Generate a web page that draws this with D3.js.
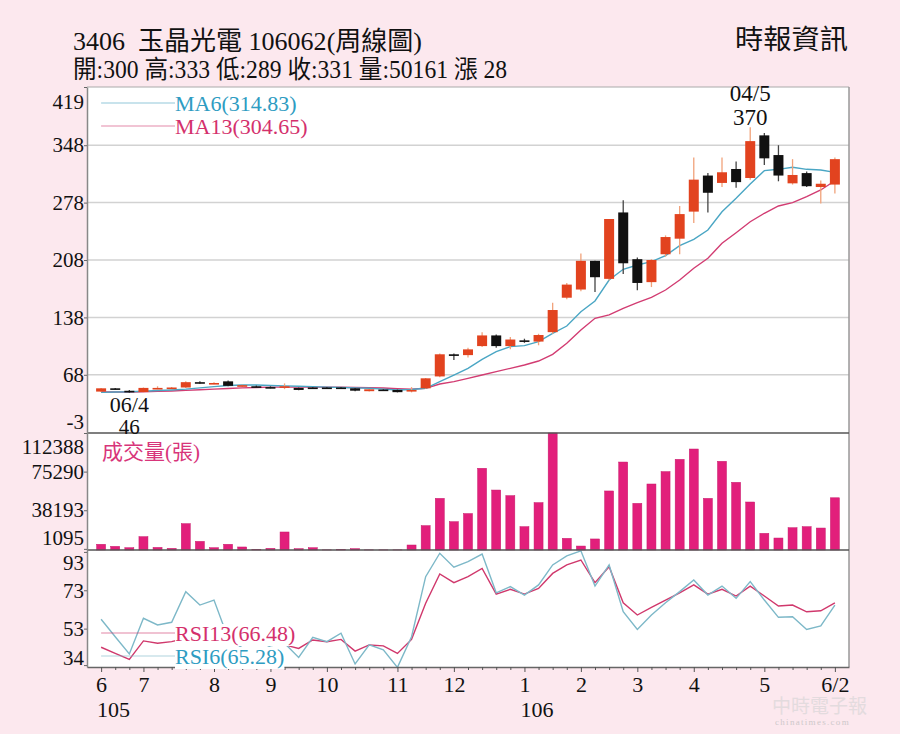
<!DOCTYPE html>
<html>
<head>
<meta charset="utf-8">
<script src="https://cdn.jsdelivr.net/npm/d3@7"></script>
<style>
body { margin: 0; background: #fce8ee; }
svg { display: block; }
text { font-family: "Liberation Serif", "Noto Sans CJK TC", serif; }
</style>
</head>
<body>
<svg width="900" height="734"></svg>
<script>
// weekly bars, 105/6 .. 106/6/2
var weekIdx = d3.range(53);
var monthTickIdx = [0, 3, 8, 12, 16, 21, 25, 30, 34, 38, 42, 47, 52];
var monthLabels = ["6", "7", "8", "9", "10", "11", "12", "1", "2", "3", "4", "5", "6/2"];
var yearTickIdx = [0, 30];
var yearLabels = ["105", "106"];

var open = [47.5, 51.5, 48.5, 47, 51.5, 52, 52.5, 59, 57.5, 60, 55, 54, 53, 53.5, 52, 52.5, 52.5, 52.5, 51.5, 48, 50, 49.5, 47.5,
    51.5, 66, 93, 92, 103, 116, 103, 110, 108.5, 120, 162, 172, 207, 185, 266, 209, 181, 215, 234, 267, 311, 302, 319, 308,
    360, 336, 301.5, 314, 297, 300];
var high = [52, 52, 49.5, 52.5, 54, 53, 60, 60, 59, 61, 56, 55, 54, 57.5, 52.5, 53, 53, 53, 52, 50.5, 50.5, 50, 53,
    64, 94, 94, 101, 120, 117, 114, 112, 118, 156, 180, 216, 207, 258, 281, 211, 209, 238, 274, 333, 314, 333, 328, 370,
    363, 348, 331, 316, 305, 333];
var low = [47, 50, 46, 46.5, 50.5, 51.5, 52, 57, 56.5, 54, 53.5, 53, 51.5, 50.5, 49, 51, 51, 51.5, 48, 47.5, 49, 46.5, 46.5,
    51, 65, 86, 89, 102, 101, 99, 107, 104, 118, 160, 170, 169, 183, 191, 171, 175, 212, 215, 253, 266, 297, 296, 306,
    324, 304, 300, 297, 277, 289];
var close = [51.5, 50.5, 48, 52, 52, 52.5, 59, 58, 58, 54.5, 55.3, 53.5, 52, 54, 49.5, 52, 51.5, 52, 48.6, 50.3, 49.5, 46.8, 49.5,
    63.7, 93, 91, 99, 116, 103, 111, 108.5, 116.5, 147, 178, 207, 187, 258, 204, 180, 208, 236, 264, 306, 290, 315, 303, 353,
    332, 311, 311.7, 298, 301, 331];
var volume = [5500, 3500, 2200, 12800, 2500, 1600, 25300, 8300, 2200, 5500, 2900, 600, 1600, 17300, 1300, 2200, 150, 600,
    1300, 150, 150, 150, 4800, 23400, 49600, 27200, 35000, 78500, 57600, 52200, 22400, 45500, 112388, 11200, 3800, 10600,
    56700, 84500, 44800, 63400, 75300, 87100, 97000, 49600, 85200, 65000, 46100, 16000, 11500, 21400, 22400, 21100, 50161];
var ma6 = [46.5, 47, 47.3, 48, 48.8, 49.5, 50.5, 52, 53.5, 55, 55.5, 55.5, 55, 54.5, 54, 53.5, 53, 52.5, 52, 51.5, 50.5, 49.5, 50,
    51.5, 59.6, 67.7, 75.9, 86.9, 96.2, 102.3, 103.5, 108.4, 118.6, 127.5, 145, 158, 183.6, 196.7, 201.9, 206, 213.3, 225.5,
    233.2, 244.6, 266.9, 283.3, 300.7, 317, 318.6, 321.1, 318.6, 317.8, 314.83];
var ma13 = [47, 47, 47, 47.3, 47.8, 48.3, 49, 49.8, 50.5, 51.3, 52, 52.5, 53, 53, 53, 53, 53, 52.8, 52.5, 52.2, 51.8, 51, 50.5,
    51.5, 56.8, 59.6, 63.7, 67.7, 71.8, 75.9, 79.9, 84.8, 93, 106.4, 122.6, 136.9, 141, 149.1, 156, 162.5, 171.4, 183.6,
    197.9, 210.1, 228.4, 241.3, 254.7, 265, 273.9, 278, 285.2, 293.4, 304.65];
var rsi6 = [57.9, 48.8, 39.8, 58.4, 54.9, 56.3, 72.3, 65.3, 67.9, 48, 43, 40, 44, 45.4, 38, 48.5, 46.2, 50.6, 34.6, 44.5,
    41.9, 32.8, 48.8, 80.1, 92.3, 85, 87.9, 91.9, 71.7, 74.9, 70.5, 75.8, 86.2, 90.9, 93.6, 75.2, 86.2, 61.8, 52.6, 60.1,
    66.5, 72.3, 78.4, 70.5, 75.2, 68.8, 77.5, 67.9, 58.9, 59.2, 52.6, 54.4, 65.28];
var rsi13 = [43.3, 40.1, 37, 46.6, 45.4, 46.2, 48, 49, 50, 48, 46, 45, 45.5, 44.5, 42.7, 47.1, 46.2, 47.4, 41.3, 44.5,
    44, 40.1, 47.4, 66.2, 81.5, 77, 80.1, 84.4, 71, 73.5, 71, 74, 81.8, 86.2, 88.8, 77, 85.3, 66.5, 60.1, 64.1,
    67.9, 71.7, 75.8, 71, 73.5, 70, 75.2, 70, 64.8, 65.3, 61.8, 62.3, 66.48];

var priceTicks = [-3, 68, 138, 208, 278, 348, 419];
var volTicks = [1095, 38193, 75290, 112388];
var rsiTicks = [34, 53, 73, 93];

var title1 = "3406  玉晶光電 106062(周線圖)";
var title2 = "開:300 高:333 低:289 收:331 量:50161 漲 28";
var source = "時報資訊";
var hiNote = ["04/5", "370"], loNote = ["06/4", "46"];

var C = { up: "#e2431f", upWick: "#f1a27a", down: "#111", downWick: "#444",
    ma6: "#4aa6c4", ma13: "#d23c72", vol: "#e21f7b", rsi6: "#7db8c8", rsi13: "#d0386c" };

var svg = d3.select("svg");
var L = 87, R = 849, pTop = 87, pBot = 433, vBot = 550, rBot = 667;

var x = d3.scalePoint().domain(weekIdx).range([L, R]).padding(1);
var yP = d3.scaleLinear().domain([-3, 419]).range([pBot, pTop]);
var yV = d3.scaleLinear().domain([0, 112388]).range([vBot, pBot]);
var yR = d3.scaleLinear().domain([33, 94]).range([rBot, vBot]);

svg.append("rect").attr("width", 900).attr("height", 734).attr("fill", "#fce8ee");
svg.append("rect").attr("x", L).attr("y", pTop).attr("width", R - L).attr("height", rBot - pTop).attr("fill", "#fff");

// grid in price panel
svg.append("g").selectAll("line").data(priceTicks.slice(1, -1)).join("line")
    .attr("x1", L).attr("x2", R).attr("y1", d => yP(d)).attr("y2", d => yP(d))
    .attr("stroke", "#d2d2d2").attr("stroke-width", 1.5);

// moving averages
var line = d3.line().x((d, i) => x(i)).y(d => yP(d));
svg.append("path").datum(ma13).attr("d", line).attr("fill", "none").attr("stroke", C.ma13).attr("stroke-width", 1.4);
svg.append("path").datum(ma6).attr("d", line).attr("fill", "none").attr("stroke", C.ma6).attr("stroke-width", 1.4);

// candles
var candles = svg.append("g").selectAll("g").data(weekIdx).join("g");
candles.append("line")
    .attr("x1", i => x(i)).attr("x2", i => x(i))
    .attr("y1", i => yP(high[i])).attr("y2", i => yP(low[i]))
    .attr("stroke", i => close[i] >= open[i] ? C.upWick : C.downWick).attr("stroke-width", 1.3);
candles.append("rect")
    .attr("x", i => x(i) - 5).attr("width", 10)
    .attr("y", i => yP(Math.max(open[i], close[i])))
    .attr("height", i => Math.max(1.6, Math.abs(yP(open[i]) - yP(close[i]))))
    .attr("fill", i => close[i] >= open[i] ? C.up : C.down);

// volume
svg.append("g").selectAll("rect").data(weekIdx).join("rect")
    .attr("x", i => x(i) - 4.5).attr("width", 9)
    .attr("y", i => yV(volume[i])).attr("height", i => vBot - yV(volume[i]))
    .attr("fill", C.vol).attr("stroke", "#c8186a").attr("stroke-width", 0.5);

// rsi
var rline = d3.line().x((d, i) => x(i)).y(d => yR(d));
svg.append("path").datum(rsi13).attr("d", rline).attr("fill", "none").attr("stroke", C.rsi13).attr("stroke-width", 1.4);
svg.append("path").datum(rsi6).attr("d", rline).attr("fill", "none").attr("stroke", C.rsi6).attr("stroke-width", 1.4);

// frame lines
svg.append("line").attr("x1", L).attr("x2", R).attr("y1", pTop).attr("y2", pTop).attr("stroke", "#aaa");
svg.append("line").attr("x1", R).attr("x2", R).attr("y1", pTop).attr("y2", rBot).attr("stroke", "#999").attr("stroke-width", 1.5);
[pBot, vBot].forEach(function (y) {
    svg.append("line").attr("x1", L).attr("x2", R).attr("y1", y).attr("y2", y).attr("stroke", "#555").attr("stroke-width", 1.5);
});

// axes
function leftAxis(scale, ticks, nudge) {
    var g = svg.append("g").attr("transform", "translate(" + L + ",0)")
        .call(d3.axisLeft(scale).tickValues(ticks).tickSize(3).tickSizeOuter(0).tickPadding(0).tickFormat(d => String(d)));
    g.select(".domain").attr("stroke", "#888").attr("stroke-width", 1.5);
    g.selectAll(".tick line").attr("stroke", "#666");
    g.selectAll(".tick text").attr("font-size", 21).attr("fill", "#111")
        .attr("font-family", "Liberation Serif").attr("y", d => nudge[d] || 0);
}
leftAxis(yP, priceTicks, { 419: 15, "-3": -11 });
leftAxis(yV, volTicks, { 112388: 14, 1095: -11 });
leftAxis(yR, rsiTicks, { 93: 11, 34: -7 });

var xa = svg.append("g").attr("transform", "translate(0," + rBot + ")")
    .call(d3.axisBottom(x).tickValues(weekIdx).tickSize(3).tickSizeOuter(0).tickPadding(6)
        .tickFormat(i => { var k = monthTickIdx.indexOf(i); return k < 0 ? "" : monthLabels[k]; }));
xa.select(".domain").attr("stroke", "#666").attr("stroke-width", 1.5);
xa.selectAll(".tick line").attr("stroke", "#555").attr("y2", i => monthTickIdx.indexOf(i) < 0 ? 3 : 5);
xa.selectAll(".tick text").attr("font-size", 22).attr("fill", "#111").attr("font-family", "Liberation Serif");
svg.append("g").selectAll("text").data(yearTickIdx).join("text")
    .attr("x", (d, k) => x(d) - 4).attr("y", 717).attr("font-size", 22).attr("fill", "#111")
    .text((d, k) => yearLabels[k]);

// legends
function legend(y, label, col, lineCol, panelBg) {
    svg.append("line").attr("x1", x(0)).attr("x2", 175).attr("y1", y).attr("y2", y)
        .attr("stroke", lineCol).attr("stroke-width", 1.2).attr("opacity", 0.6);
    var t = svg.append("text").attr("x", 175).attr("y", y + 8).attr("font-size", 22).attr("fill", col).text(label);
    if (panelBg) {
        var b = t.node().getBBox();
        svg.insert("rect", () => t.node()).attr("x", b.x).attr("y", b.y + 3).attr("width", b.width).attr("height", b.height - 3)
            .attr("fill", "#fff");
    }
}
legend(103, "MA6(" + ma6[52].toFixed(2) + ")", "#2e9cc2", C.ma6, false);
legend(126, "MA13(" + ma13[52].toFixed(2) + ")", "#d4306c", C.ma13, false);
legend(633, "RSI13(" + rsi13[52].toFixed(2) + ")", "#d4306c", C.rsi13, true);
legend(656, "RSI6(" + rsi6[52].toFixed(2) + ")", "#2e9cc2", C.rsi6, true);

svg.append("text").attr("x", 102).attr("y", 459).attr("font-size", 21).attr("fill", "#d8357a")
    .attr("font-family", "Noto Sans CJK TC").text("成交量(張)");

// high / low notes
var iHi = d3.maxIndex(high), iLo = d3.minIndex(low);
svg.append("text").attr("x", x(iHi)).attr("y", yP(high[iHi]) - 26).attr("text-anchor", "middle")
    .attr("font-size", 23).attr("font-family", "Liberation Sans Narrow, Liberation Sans").attr("fill", "#111").text(hiNote[0]);
svg.append("text").attr("x", x(iHi)).attr("y", yP(high[iHi]) - 2).attr("text-anchor", "middle")
    .attr("font-size", 23).attr("fill", "#111").text(hiNote[1]);
svg.append("text").attr("x", x(iLo)).attr("y", yP(low[iLo]) + 19).attr("text-anchor", "middle")
    .attr("font-size", 22).attr("font-family", "Liberation Sans Narrow, Liberation Sans").attr("fill", "#111").text(loNote[0]);
svg.append("text").attr("x", x(iLo)).attr("y", yP(low[iLo]) + 41).attr("text-anchor", "middle")
    .attr("font-size", 21).attr("font-family", "Liberation Sans Narrow, Liberation Sans").attr("fill", "#111").text(loNote[1]);

// header
svg.append("text").attr("x", 73).attr("y", 50).attr("font-size", 26).attr("fill", "#111")
    .attr("textLength", 349).attr("lengthAdjust", "spacingAndGlyphs").style("white-space", "pre").text(title1);
svg.append("text").attr("x", 73).attr("y", 78).attr("font-size", 25).attr("fill", "#111")
    .attr("textLength", 434).attr("lengthAdjust", "spacingAndGlyphs").text(title2);
svg.append("text").attr("x", 735).attr("y", 49).attr("font-size", 27).attr("fill", "#111")
    .attr("font-family", "Noto Sans CJK TC").attr("textLength", 113).attr("lengthAdjust", "spacingAndGlyphs").text(source);

// watermark (kept clear of the axis labels)
svg.append("text").attr("x", 772).attr("y", 713).attr("font-size", 19).attr("font-family", "Noto Sans CJK TC")
    .attr("fill", "#d4d4d4").attr("opacity", 0.6).text("中時電子報");
svg.append("text").attr("x", 775).attr("y", 725).attr("font-size", 9).attr("font-family", "Liberation Sans")
    .attr("fill", "#bbb").attr("opacity", 0.7).attr("letter-spacing", 1.3).text("chinatimes.com");
</script>
</body>
</html>
